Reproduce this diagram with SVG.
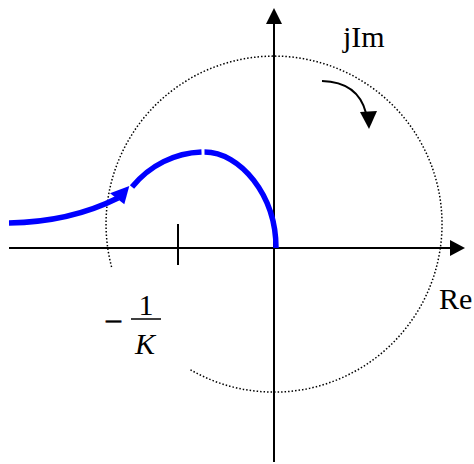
<svg xmlns="http://www.w3.org/2000/svg" width="474" height="464" viewBox="0 0 474 464">
  <style>
    .axis { stroke: #000; stroke-width: 2; fill: none; }
    .lbl { font-family: "Liberation Serif", "Times New Roman", serif; font-size: 30px; fill: #000; }
    .blue { stroke: #0000ff; stroke-width: 5.5; fill: none; }
    .dots { stroke: #000; stroke-width: 1.5; fill: none; stroke-dasharray: 1.5 2; }
  </style>
  <rect width="474" height="464" fill="#fff"/>
  <g id="circle">
    <path class="dots" d="M111.6,267 A168,168 0 1 1 189,369"/>
  </g>
  <g id="axes">
    <line class="axis" x1="9" y1="248" x2="452" y2="248"/>
    <polygon points="465,248 450,240 450,256" fill="#000"/>
    <line class="axis" x1="274" y1="462" x2="274" y2="22"/>
    <polygon points="274,8 266,24 282,24" fill="#000"/>
    <line class="axis" x1="178" y1="224" x2="178" y2="265"/>
  </g>
  <g id="nyquist">
    <path class="blue" d="M9,223 Q70,222 118,198"/>
    <polygon points="129.3,186 110,193.3 124.3,204.3" fill="#0000ff"/>
    <path class="blue" d="M132,187 C150,165 175,153 201.5,152"/>
    <path class="blue" d="M204.5,152 C240,152 276,195 276,248"/>
  </g>
  <g id="rotation">
    <path class="axis" d="M322,81 Q358,82 366,113"/>
    <polygon points="369,129 360,112 377,111" fill="#000"/>
  </g>
  <g id="labels">
    <text class="lbl" x="106" y="329" font-size="40" stroke="#000" stroke-width="0.5">–</text>
    <text class="lbl" x="343" y="47">jIm</text>
    <text class="lbl" x="439" y="309">Re</text>
    <text class="lbl" x="146" y="315" text-anchor="middle">1</text>
    <line x1="131" y1="319" x2="161" y2="319" stroke="#000" stroke-width="1.5"/>
    <text class="lbl" x="145" y="354" text-anchor="middle" font-style="italic">K</text>
  </g>
</svg>
